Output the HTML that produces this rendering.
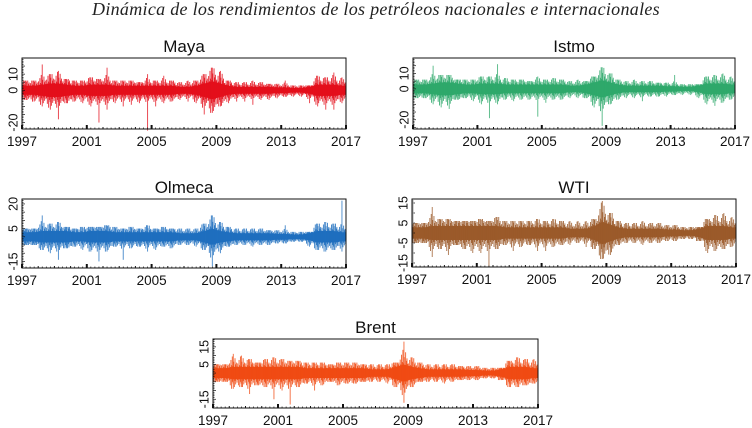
<!DOCTYPE html>
<html><head><meta charset="utf-8"><style>
body{margin:0;background:#fff;}
svg{display:block;font-family:"Liberation Sans",sans-serif;}
</style></head><body>
<svg id="chart" width="752" height="428">
<text x="376" y="15" text-anchor="middle" font-family="Liberation Serif,serif" font-style="italic" font-size="18" letter-spacing="0.3" fill="#222">Dinámica de los rendimientos de los petróleos nacionales e internacionales</text>
</svg>
<script>
const bins = [1997,1997.5,1998,1998.5,1999,1999.5,2000,2000.5,2001,2001.5,2002,2002.5,2003,2003.5,2004,2004.5,2005,2005.5,2006,2006.5,2007,2007.5,2008,2008.5,2009,2009.5,2010,2010.5,2011,2011.5,2012,2012.5,2013,2013.5,2014,2014.5,2015,2015.5,2016,2016.5];
const xTickLabels = [1997,2001,2005,2009,2013,2017];
const mayaHi = [6,6,16,10,12,7,6,6,8,7,14,6,6,6,5,10,6,9,6,5,6,6,10,14,12,6,5,5,6,5,4,4,6,3,3,3,9,8,11,8];
const mayaLo = [-6,-7,-10,-12,-18,-8,-7,-8,-10,-20,-12,-8,-10,-9,-8,-25,-10,-8,-7,-6,-7,-8,-15,-14,-10,-8,-7,-7,-9,-6,-6,-5,-4,-4,-4,-8,-10,-12,-12,-8];
const mayaCore = [4,4,5,6,6,5,4,4,5,5,5,4,4,4,4,4,4,4,4,3,3,4,6,8,6,4,3,3,3,3,3,2.5,2.5,2,2,3,5,5,5,4];
const istmoHi = [6,6,15,9,9,6,6,6,8,8,16,7,6,6,5,8,6,7,6,5,6,5,8,14,10,6,5,6,5,5,4,4,9,3,3,3,8,9,10,8];
const istmoLo = [-6,-6,-10,-12,-13,-7,-6,-8,-10,-19,-10,-7,-8,-7,-7,-18,-9,-7,-7,-6,-6,-6,-12,-24,-10,-7,-6,-6,-8,-5,-5,-5,-4,-4,-4,-6,-10,-11,-9,-7];
const istmoCore = [4,4,5,6,6,5,4,4,5,5,5,4,4,4,4,4,4,4,4,3,3,4,6,8,6,4,3,3,3,3,3,2.5,2.5,2,2,3,5,5,5,4];
const olmecaHi = [5,5,13,8,9,6,5,6,6,6,7,6,5,6,5,7,5,6,5,5,5,5,8,13,9,6,5,5,5,5,4,4,7,3,3,3,8,9,8,22];
const olmecaLo = [-5,-5,-8,-10,-14,-7,-6,-8,-9,-15,-9,-6,-14,-7,-6,-9,-8,-6,-7,-5,-5,-6,-8,-18,-10,-6,-5,-5,-6,-5,-5,-4,-4,-3,-3,-6,-8,-9,-8,-9];
const olmecaCore = [4,4,5,5,5,5,4,4,5,5,5,4,4,4,4,4,4,4,4,3,3,3,5,7,5,4,3,3,3,3,3,2.5,2.5,2,2,3,5,5,5,4];
const wtiHi = [5,5,13,7,7,6,6,6,7,6,8,6,6,6,6,7,6,7,6,6,6,6,7,16,10,6,5,5,6,5,5,4,4,3,3,3,7,9,10,8];
const wtiLo = [-5,-5,-12,-8,-11,-6,-8,-10,-10,-17,-8,-6,-9,-7,-6,-9,-9,-7,-6,-6,-5,-7,-8,-13,-11,-6,-5,-5,-6,-5,-5,-4,-4,-3,-3,-4,-10,-9,-8,-7];
const wtiCore = [4,4,5,5,5,5,5,5,5,5,5,4,4,4,4,4,4,4,4,3,3,3,5,8,6,4,3,3,3,3,3,2.5,2.5,2,2,3,5,5,5,4];
const brentHi = [5,5,11,10,8,6,8,9,8,7,7,6,6,6,5,6,6,6,5,5,5,5,6,18,9,6,5,5,5,5,4,4,4,3,3,3,7,9,8,8];
const brentLo = [-5,-5,-9,-8,-12,-7,-8,-15,-10,-18,-8,-6,-10,-7,-5,-7,-6,-6,-5,-5,-5,-6,-8,-17,-8,-5,-5,-5,-6,-5,-4,-4,-4,-3,-3,-4,-8,-8,-7,-6];
const brentCore = [4,4,5,5,5,5,5,5,5,5,5,4,4,4,4,4,4,4,4,3,3,3,5,7,5,4,3,3,3,3,3,2.5,2.5,2,2,3,5,5,5,4];
const mayaYTicks=[10,0,-20], istmoYTicks=[10,0,-20], olmecaYTicks=[20,5,-15], wtiYTicks=[15,5,-5,-15], brentYTicks=[15,5,-15];

const NS="http://www.w3.org/2000/svg";
const svg=document.getElementById('chart');
function mk(tag,attrs,parent){const e=document.createElementNS(NS,tag);for(const k in attrs)e.setAttribute(k,attrs[k]);(parent||svg).appendChild(e);return e;}

const upF=[1.1,0.7,1.5,0.9,1.9,0.8,1.3,0.6,1.7,1.0,1.2,0.75];
const dnF=[0.8,1.4,0.7,1.8,1.0,1.2,0.65,1.6,0.9,1.3,0.7,1.1];

const panels=[
 {name:'maya',title:'Maya',x0:22,x1:346,y0:58,y1:129,ymin:-24,ymax:20,hi:mayaHi,lo:mayaLo,core:mayaCore,ticks:mayaYTicks,color:'#e3101c'},
 {name:'istmo',title:'Istmo',x0:413,x1:735,y0:58,y1:129,ymin:-26,ymax:20,hi:istmoHi,lo:istmoLo,core:istmoCore,ticks:istmoYTicks,color:'#2fa96b'},
 {name:'olmeca',title:'Olmeca',x0:22,x1:346,y0:199,y1:268,ymin:-19,ymax:23,hi:olmecaHi,lo:olmecaLo,core:olmecaCore,ticks:olmecaYTicks,color:'#1f6fbf'},
 {name:'wti',title:'WTI',x0:412,x1:736,y0:199,y1:267,ymin:-17,ymax:17,hi:wtiHi,lo:wtiLo,core:wtiCore,ticks:wtiYTicks,color:'#9b5a2a'},
 {name:'brent',title:'Brent',x0:213,x1:538,y0:339,y1:408,ymin:-20,ymax:19.5,hi:brentHi,lo:brentLo,core:brentCore,ticks:brentYTicks,color:'#f04b14'}
];

panels.forEach(p=>{
 const g=mk('g',{});
 
 
 const xs=v=>p.x0+(v-1997)/20*(p.x1-p.x0);
 const ys=v=>p.y0+(p.ymax-v)/(p.ymax-p.ymin)*(p.y1-p.y0);
 const t=mk('text',{x:(p.x0+p.x1)/2,y:p.y0-6,'text-anchor':'middle','font-size':17,fill:'#111'},g);
 t.textContent=p.title;
 
 
 const pts=[];
 p.core.forEach((c,i)=>{pts.push([bins[i]+0.25,c*0.7]);});
 pts.unshift([1997,p.core[0]*0.7]);pts.push([2017,p.core[p.core.length-1]*0.7]);
 const d='M'+pts.map(q=>xs(q[0]).toFixed(1)+','+ys(q[1]).toFixed(1)).join('L')+'L'+pts.slice().reverse().map(q=>xs(q[0]).toFixed(1)+','+ys(-q[1]).toFixed(1)).join('L')+'Z';
 const band=mk('path',{d:d,fill:p.color},g);
 
 
 p.hi.forEach((h,i)=>{
  const xc=xs(bins[i]+0.25);
  const l=mk('line',{x1:xc,x2:xc,y1:ys(h),y2:ys(p.lo[i]),stroke:p.color,'stroke-width':1,'stroke-opacity':0.75},g);
  
  
  const c=p.core[i];
  upF.forEach((f,k)=>{
   const off=(k+0.5)/upF.length*0.5;
   const x2=xs(bins[i]+off);
   const l2=mk('line',{x1:x2,x2:x2,y1:ys(Math.min(c*f,h)),y2:ys(Math.max(-c*dnF[k],p.lo[i])),stroke:p.color,'stroke-width':0.9,'stroke-opacity':0.9},g);
   
   
  });
 });
 const box=mk('rect',{x:p.x0,y:p.y0,width:p.x1-p.x0,height:p.y1-p.y0,fill:'none',stroke:'#111','stroke-width':1},g);
 
 
 for(let yr=1997;yr<=2017;yr++){
  const major=(yr-1997)%4===0;
  mk('line',{x1:xs(yr),x2:xs(yr),y1:p.y1,y2:p.y1-(major?4:2),stroke:'#111','stroke-width':major?2:1},g);
  for(let q=1;q<4&&yr<2017;q++) mk('line',{x1:xs(yr+q/4),x2:xs(yr+q/4),y1:p.y1,y2:p.y1-1.5,stroke:'#111','stroke-width':0.7},g);
 }
 xTickLabels.forEach(v=>{
  const tl=mk('text',{x:xs(v),y:p.y1+17,'text-anchor':'middle','font-size':13.5,fill:'#111'},g);
  tl.textContent=v;
  
  
 });
 for(let v=Math.ceil(p.ymin);v<=p.ymax;v++){
  mk('line',{x1:p.x0,x2:p.x0+(v%5===0?3:1.5),y1:ys(v),y2:ys(v),stroke:'#111','stroke-width':0.7},g);
 }
 p.ticks.forEach(v=>{
  const yy=ys(v);
  const tl=mk('text',{x:p.x0-8,y:yy,'text-anchor':'middle','font-size':12.5,fill:'#111',transform:`rotate(-90 ${p.x0-8} ${yy})`,'dominant-baseline':'middle'},g);
  tl.textContent=v;
  
  
 });
});
</script>
</body></html>
